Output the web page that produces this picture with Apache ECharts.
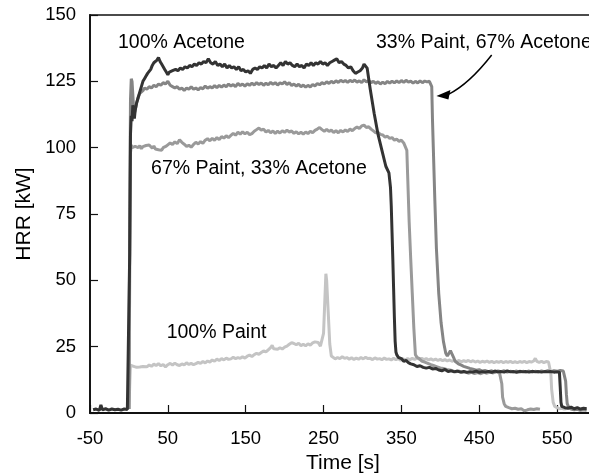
<!DOCTYPE html>
<html><head><meta charset="utf-8">
<script src="https://cdn.jsdelivr.net/npm/echarts@6/dist/echarts.min.js"></script>
<style>html,body{margin:0;padding:0;background:#fff}#c{width:589px;height:476px}</style>
</head><body><div id="c"></div>
<script>
// ---- data: [time s, HRR kW] ----
const acetone100 = [[-46,1.2],[-42,1.5],[-38,1.0],[-36,3.0],[-34,1.2],[-30,1.6],[-26,1.1],[-22,1.5],[-18,1.2],[-14,1.4],[-10,1.1],[-6,1.5],[-2,1.3],[0,1.5],[1,60],[2,105],[3,112],[4,110],[5,116],[6,113],[7,111],[8,114],[10,117],[12,119],[14,121],[16,123],[18,125],[20,126],[22,127],[24,128],[26,128.5],[28,129.5],[30,131],[32,132],[34,132.5],[36,133],[38,134],[40,132.5],[42,131.5],[44,130.5],[46,129.5],[48,128.5],[50,127.5],[52,128.5],[54,128],[56,129],[58,128.5],[60,129.5],[63,129],[66,130],[69,129.5],[72,130.5],[75,130],[78,131],[81,130.5],[84,131.5],[87,131],[90,132],[93,131.5],[96,132.5],[99,132],[102,133.5],[105,132],[108,131.5],[111,132.5],[114,131],[117,131.5],[120,130.5],[123,131.5],[126,130],[129,131],[132,130],[135,130.5],[138,129.5],[141,130.5],[144,129],[147,129.5],[150,128.5],[153,129],[156,128],[159,129.5],[162,130],[165,129.5],[168,130.5],[171,130],[174,131],[177,130],[180,131.5],[183,130.5],[186,131],[189,130],[192,131],[195,132],[198,131],[201,132.5],[204,131.5],[207,132],[210,131],[213,130.5],[216,131.5],[219,130.5],[222,131],[225,130],[228,131.5],[231,131],[234,132],[237,131],[240,132],[243,131.5],[246,132.5],[249,131.5],[252,132],[255,131],[258,132],[261,132.5],[264,133],[267,133.5],[270,132],[273,132.5],[276,131.5],[279,131],[282,130],[285,130.5],[288,129],[291,128],[294,128.5],[297,129],[300,130],[302,131.5],[304,132],[306,130],[310,122],[315,113],[320,105],[325,99],[330,93],[334,90.5],[336,85],[337,78],[338,68],[339,58],[340,47],[341,36],[342,27],[343,23],[344,22],[346,21],[348,21.5],[350,20.5],[353,19.5],[356,19.8],[359,19],[362,18.5],[366,18.2],[370,17.5],[374,17.8],[378,17.2],[382,16.9],[386,17.2],[390,16.6],[394,16.8],[398,16.2],[402,15.9],[406,16.4],[410,15.6],[414,15.9],[418,15.5],[422,15.8],[426,15.4],[430,15.7],[434,15.3],[438,15.6],[442,15.4],[446,15.8],[450,15.3],[454,15.6],[458,15.4],[462,15.7],[466,15.3],[470,15.8],[474,15.5],[478,15.6],[482,15.4],[486,15.9],[490,15.5],[494,15.6],[498,15.3],[502,15.7],[506,15.5],[510,15.6],[514,15.4],[518,15.7],[522,15.5],[526,15.6],[530,15.4],[534,15.6],[538,15.5],[542,15.6],[546,15.4],[550,15.5],[553,15.4],[554,10],[555,4],[556,2.5],[560,2.0],[564,1.8],[568,2.2],[572,1.6],[576,2.0],[580,1.5],[584,1.8],[588,1.6]];

const paint33 = [[0,1.5],[1,70],[2,118],[3,126],[4,125],[5,120],[6,115],[7,113],[8,114],[10,117],[12,119],[14,120.5],[16,121],[18,121.5],[20,122.5],[23,122],[26,123],[29,122.5],[32,123.5],[35,123],[38,124],[41,123.5],[44,124.5],[47,124],[50,125],[53,123.5],[56,123],[59,122.5],[62,123],[65,122],[68,122.5],[71,121.5],[74,122.5],[77,122],[80,123],[83,122],[86,122.5],[89,121.8],[92,122.6],[95,122.2],[98,123.2],[101,122.4],[104,123],[107,122.5],[110,123.4],[113,122.6],[116,123.5],[119,122.8],[122,123.6],[125,123],[128,124],[131,123.2],[134,123.8],[137,123],[140,124.2],[143,123.4],[146,124],[149,123.2],[152,124.1],[155,123.5],[158,124.3],[161,123.6],[164,124.5],[167,123.8],[170,124.4],[173,123.5],[176,124.3],[179,123.7],[182,124.6],[185,123.9],[188,124.5],[191,123.6],[194,124.4],[197,124],[200,124.8],[203,123.8],[206,124.5],[209,123.4],[212,124],[215,123.2],[218,123.9],[221,123],[224,123.6],[227,122.8],[230,123.5],[233,122.9],[236,123.8],[239,123.3],[242,124.2],[245,123.7],[248,124.5],[251,124],[254,124.8],[257,124.2],[260,125],[263,124.4],[266,125.2],[269,124.6],[272,125.4],[275,124.8],[278,125.3],[281,124.6],[284,125.4],[287,124.8],[290,125.5],[293,124.7],[296,125.2],[299,124.5],[302,125.6],[305,124.8],[308,125.3],[311,124.5],[314,125],[317,124.2],[320,124.8],[323,124],[326,124.7],[329,124.1],[332,125],[335,124.3],[338,125.1],[341,124.4],[344,125.2],[347,124.5],[350,125.3],[353,124.6],[356,125.4],[359,124.7],[362,125.1],[365,124.3],[368,125],[371,124.4],[374,125.2],[377,124.5],[380,125.1],[383,124.8],[386,125],[388,124.5],[389,123],[390,110],[391,100],[393,80],[395,62],[398,45],[401,34],[404,27],[407,22.5],[409,21.5],[411,22],[413,23.5],[415,23],[417,21],[419,19.5],[421,19],[424,18.4],[427,18],[430,17.6],[434,17.2],[438,16.8],[442,16.5],[446,16.1],[450,16.3],[454,15.8],[458,16],[462,15.6],[466,15.9],[470,15.5],[474,15.8],[478,15.6],[482,15.9],[486,15.4],[490,15.7],[494,15.5],[498,15.8],[502,15.4],[506,15.7],[510,15.5],[514,15.8],[518,15.4],[522,15.7],[526,15.5],[530,15.8],[534,15.6],[538,15.9],[542,15.6],[546,15.9],[550,15.7],[554,16],[558,15.8],[560,15.5],[561,12],[562,7],[563,3.5],[565,2.2],[568,1.5],[572,1.2],[576,1.4],[580,1.0],[584,1.2],[588,1.0]];

const paint67 = [[0,1.5],[1,50],[2,98],[3,101],[4,100],[6,99.5],[8,100.5],[10,101],[12,100],[14,100.8],[16,99.6],[18,100.4],[20,99.8],[22,100.8],[24,100.2],[26,101],[28,100.3],[30,99.8],[32,100.6],[34,99.5],[36,100.2],[38,99.2],[40,99.6],[42,99],[44,100],[46,99.4],[48,100.6],[50,100.9],[53,101.8],[56,101.2],[59,102.2],[62,101.5],[65,103],[68,102],[71,101.3],[74,100.5],[77,100.9],[80,100.2],[83,101.2],[86,102],[89,101.4],[92,102.3],[95,101.6],[98,102.8],[101,103.4],[104,102.6],[107,103.5],[110,102.8],[113,103.8],[116,103],[119,104.2],[122,103.6],[125,104.5],[128,103.8],[131,104.6],[134,105.4],[137,104.7],[140,105.8],[143,105.1],[146,106],[149,105.2],[152,105.8],[155,104.9],[158,105.3],[161,106.2],[164,106.8],[167,107.4],[170,106.6],[173,107],[176,105.9],[179,106.5],[182,105.6],[185,106.3],[188,105.4],[191,106.2],[194,105.5],[197,106.4],[200,105.8],[203,106.6],[206,105.9],[209,106.3],[212,105.4],[215,106],[218,105.2],[221,105.8],[224,105.1],[227,105.9],[230,105.3],[233,106.2],[236,105.6],[239,106.5],[242,107],[245,107.6],[248,106.8],[251,106.2],[254,106.9],[257,106.1],[260,106.6],[263,105.7],[266,106.4],[269,105.6],[272,106.5],[275,105.9],[278,106.7],[281,106.1],[284,107],[287,106.4],[290,107.2],[293,107.8],[296,107.2],[299,108.2],[302,108.5],[305,107.6],[308,107.9],[311,107],[314,106.3],[317,105.6],[320,105.8],[323,105],[326,104.8],[329,104],[332,104.3],[335,103.5],[338,103.8],[341,102.8],[344,103.2],[347,102.4],[350,102.8],[353,101.8],[355,102],[357,99],[358,90],[360,72],[362,58],[364,45],[366,32],[368,22],[370,21],[373,20.5],[376,19.6],[380,19.2],[384,18.7],[388,18.2],[392,17.8],[396,17.4],[400,17],[404,16.8],[408,16.4],[412,16.2],[416,15.9],[420,15.5],[424,15.8],[428,15.2],[432,15.5],[436,15],[440,15.3],[444,14.9],[448,15.2],[452,14.8],[456,15.3],[460,15],[464,15.4],[468,15.1],[472,15.5],[476,15.2],[478,15],[479,11],[480,6],[482,3.5],[484,2.5],[488,2],[492,1.6],[496,1.8],[500,1.4],[504,1.6],[508,0.8],[510,0.5],[512,1.2],[516,1.5],[520,1.3],[524,1.6],[528,1.4]];

const paint100 = [[0,1.5],[1,10],[2,18],[4,18.3],[6,17.6],[8,17.9],[10,17.2],[12,16.8],[14,17.3],[16,16.9],[18,17.5],[20,17.8],[23,17.4],[26,18.1],[29,17.6],[32,18.4],[35,17.9],[38,18.6],[41,17.8],[44,18.3],[47,17.4],[50,18.2],[53,18.7],[56,18.1],[59,18.8],[62,18.2],[65,17.9],[68,18.5],[71,18.1],[74,18.9],[77,18.3],[80,18.7],[83,18.2],[86,18.6],[89,19.1],[92,18.7],[95,19.4],[98,18.9],[101,19.6],[104,19.2],[107,20],[110,19.5],[113,20.3],[116,19.8],[119,20.5],[122,20],[125,20.7],[128,20.2],[131,20.4],[134,21],[137,20.5],[140,20.9],[143,20.6],[146,21.2],[149,20.7],[152,21.4],[155,21.8],[158,21.3],[161,22],[164,22.5],[167,22.1],[170,22.8],[173,23.4],[176,23],[179,23.8],[182,24.6],[184,25.5],[186,24.2],[188,24.8],[191,24],[194,24.6],[197,24.1],[200,24.8],[203,25.2],[206,25.9],[209,26.5],[212,26.2],[215,25.7],[218,26.3],[221,25.4],[224,25.9],[227,25.3],[230,26.1],[233,25.6],[236,26.4],[239,26.8],[241,27.5],[243,26.6],[246,25.2],[248,24.5],[250,30],[252,45],[253,52.5],[254,50],[256,38],[258,26],[260,21.5],[262,21],[265,20.4],[268,20.9],[271,20.5],[274,21.2],[277,20.6],[280,20.9],[283,20.3],[286,20.8],[289,20.2],[292,20.7],[295,20.3],[298,20.9],[301,20.4],[304,21],[307,20.5],[310,20.6],[313,20.1],[316,20.8],[319,20.3],[322,20.5],[325,20.1],[328,20.7],[331,20.2],[334,20.4],[337,20],[340,20.6],[343,20.1],[346,20.5],[349,19.9],[352,20.4],[355,20],[358,20.5],[361,20.1],[364,20.6],[367,20.2],[370,20.7],[373,20.3],[376,20.6],[379,20.1],[382,20.5],[385,20],[388,20.4],[391,19.9],[394,20.3],[397,19.8],[400,20.2],[403,19.7],[406,20.1],[409,19.6],[412,20],[415,19.5],[418,19.9],[421,19.4],[424,19.8],[427,19.3],[430,19.7],[433,19.4],[436,19.8],[439,19.3],[442,19.7],[445,19.2],[448,19.6],[451,19.1],[454,19.5],[457,19.2],[460,19.6],[463,19.1],[466,19.5],[469,19],[472,19.4],[475,19.1],[478,19.5],[481,19],[484,19.4],[487,19.1],[490,19.5],[493,19],[496,19.3],[499,19],[502,19.4],[505,19.1],[508,19.5],[511,19],[514,19.4],[517,19.2],[520,19.6],[522,20.6],[524,19.5],[527,19.1],[530,19.5],[533,19],[536,19.4],[539,19.2],[541,19],[542,15],[543,9],[545,4],[547,2.5],[550,2],[553,1.6],[556,1.8],[559,1.5],[562,1.6]];

const seriesNames = ['100% Paint', '67% Paint, 33% Acetone', '33% Paint, 67% Acetone', '100% Acetone'];
const yTicks = [0, 25, 50, 75, 100, 125, 150];
const xTicks = [-50, 50, 150, 250, 350, 450, 550];
// annotation anchors in data coordinates [t, HRR]
const labelAnchors = [
  ['100% Acetone', -14, 139.6],
  ['33% Paint, 67% Acetone', 317.4, 139.6],
  ['67% Paint, 33% Acetone', 28.4, 92.2],
  ['100% Paint', 48.5, 30.2]
];
const arrowStart = [466, 134.9];
const arrowCtrl = [437, 124];
const arrowTip = [395, 119.5];

const FONT = 'Liberation Sans, Arial, Helvetica, sans-serif';
const chart = echarts.init(document.getElementById('c'), null, {renderer: 'canvas'});
const lineSeries = (name, data, color, z) => ({
  name, type: 'line', data, showSymbol: false, symbol: 'none', z,
  lineStyle: {color, width: 3}, animation: false
});
chart.setOption({
  animation: false,
  backgroundColor: '#fff',
  grid: {left: 90, width: 506, top: 15, height: 398, containLabel: false, outerBoundsMode: 'none',
    show: true, borderColor: '#111', borderWidth: 1.5, backgroundColor: 'transparent'},
  xAxis: {
    type: 'value', min: xTicks[0], max: 600, interval: 100,
    name: 'Time [s]', nameLocation: 'middle', nameGap: 37,
    nameTextStyle: {fontFamily: FONT, fontSize: 21, color: '#000'},
    axisLine: {show: true, onZero: false, lineStyle: {color: '#111', width: 1.8}},
    axisTick: {show: true, inside: true, length: 8, lineStyle: {color: '#111', width: 1.2}},
    axisLabel: {fontFamily: FONT, fontSize: 18.5, color: '#000', margin: 16,
      formatter: v => xTicks.indexOf(v) >= 0 ? String(v) : ''},
    splitLine: {show: false}
  },
  yAxis: {
    type: 'value', min: yTicks[0], max: yTicks[yTicks.length - 1], interval: 25,
    name: 'HRR [kW]', nameLocation: 'middle', nameGap: 55,
    nameTextStyle: {fontFamily: FONT, fontSize: 21, color: '#000'},
    axisLine: {show: true, onZero: false, lineStyle: {color: '#111', width: 1.8}},
    axisTick: {show: true, inside: true, length: 8, lineStyle: {color: '#111', width: 1.2}},
    axisLabel: {fontFamily: FONT, fontSize: 18.5, color: '#000', margin: 14},
    splitLine: {show: false}
  },
  series: [
    lineSeries(seriesNames[0], paint100, '#c4c4c4', 1),
    lineSeries(seriesNames[1], paint67, '#9a9a9a', 2),
    lineSeries(seriesNames[2], paint33, '#858585', 3),
    lineSeries(seriesNames[3], acetone100, '#333333', 4)
  ]
});

const px = (p) => chart.convertToPixel({gridIndex: 0}, p);
const graphics = labelAnchors.map(([txt, t, v]) => {
  const p = px([t, v]);
  return {type: 'text', x: p[0], y: p[1], z: 100,
    style: {text: txt, fontFamily: FONT, fontSize: 19.5, fill: '#000', textAlign: 'left', textVerticalAlign: 'middle'}};
});
const s = px(arrowStart), c = px(arrowCtrl), e = px(arrowTip);
const baseX = e[0] + 12;
graphics.push({type: 'bezierCurve', z: 100, shape: {x1: s[0], y1: s[1], x2: baseX, y2: e[1] - 1.5, cpx1: c[0], cpy1: c[1]},
  style: {stroke: '#000', lineWidth: 1.5, fill: null}});
graphics.push({type: 'polygon', z: 100, shape: {points: [[e[0], e[1]], [baseX + 2, e[1] - 6], [baseX, e[1] + 3.5]]},
  style: {fill: '#000'}});
chart.setOption({graphic: graphics});
</script>
</body></html>
